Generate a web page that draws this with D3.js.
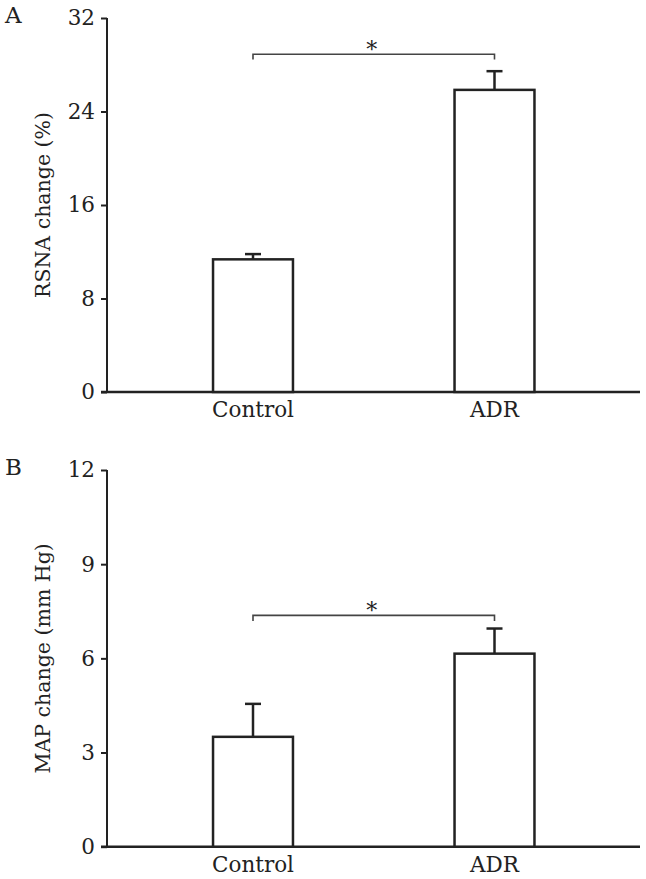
<!DOCTYPE html>
<html><head><meta charset="utf-8">
<script src="https://cdn.jsdelivr.net/npm/d3@7"></script>
<style>
body{margin:0;background:#fff;}
text{font-family:"DejaVu Serif",serif;fill:#222;}
</style></head>
<body><svg id="c" width="646" height="879"></svg>
<script>
const categories = ["Control", "ADR"];
const rsnaMean = [11.35, 25.85];
const rsnaErr = [0.45, 1.6];
const rsnaTicks = [0, 8, 16, 24, 32];
const mapMean = [3.5, 6.15];
const mapErr = [1.05, 0.8];
const mapTicks = [0, 3, 6, 9, 12];

const svg = d3.select("#c");

function panel(o) {
  const g = svg.append("g");
  const x = d3.scaleBand().domain(categories).range([132.25, 615.25]).paddingInner(0.669).paddingOuter(0.3345);
  const y = d3.scaleLinear().domain([0, o.max]).range([o.y0, o.y1]);
  const xLeft = 107, xRight = 640;

  // y axis
  const ya = g.append("g").attr("transform", `translate(${xLeft},0)`)
    .call(d3.axisLeft(y).tickValues(o.ticks).tickSize(6).tickPadding(6).tickFormat(d3.format("d")));
  ya.select(".domain").attr("d", `M0,${o.y1}V${o.y0}`).attr("stroke", "#222").attr("stroke-width", 2);
  ya.selectAll(".tick line").attr("stroke", "#222").attr("stroke-width", 2);
  ya.selectAll(".tick text").attr("font-size", 21.5).attr("font-family", "DejaVu Serif").attr("fill", "#222");

  // x axis
  const xa = g.append("g").attr("transform", `translate(0,${o.y0})`)
    .call(d3.axisBottom(x).tickSize(0).tickPadding(10));
  xa.select(".domain").attr("d", `M${xLeft - 6},0H${xRight}`).attr("stroke", "#222").attr("stroke-width", 2.5);
  xa.selectAll(".tick text").attr("font-size", 21.5).attr("font-family", "DejaVu Serif").attr("fill", "#222").attr("dy", "0.71em");

  // error bars
  const cap = 16;
  categories.forEach((c, i) => {
    const cx = x(c) + x.bandwidth() / 2;
    g.append("line").attr("x1", cx).attr("x2", cx).attr("y1", y(o.mean[i])).attr("y2", y(o.mean[i] + o.err[i]))
      .attr("stroke", "#222").attr("stroke-width", 2.5);
    g.append("line").attr("x1", cx - cap / 2).attr("x2", cx + cap / 2).attr("y1", y(o.mean[i] + o.err[i])).attr("y2", y(o.mean[i] + o.err[i]))
      .attr("stroke", "#222").attr("stroke-width", 2.5);
  });

  // bars
  g.selectAll("rect.bar").data(categories).join("rect").attr("class", "bar")
    .attr("x", d => x(d)).attr("width", x.bandwidth())
    .attr("y", (d, i) => y(o.mean[i])).attr("height", (d, i) => y(0) - y(o.mean[i]))
    .attr("fill", "#fff").attr("stroke", "#222").attr("stroke-width", 2.5);

  // significance bracket
  const bx1 = x(categories[0]) + x.bandwidth() / 2, bx2 = x(categories[1]) + x.bandwidth() / 2;
  const by = y(o.bracket), byEnd = y(o.bracket - o.bracketDrop);
  g.append("path").attr("d", `M${bx1},${byEnd}V${by}H${bx2}V${byEnd}`)
    .attr("fill", "none").attr("stroke", "#444").attr("stroke-width", 1.6);
  g.append("text").attr("x", (bx1 + bx2) / 2 - 2).attr("y", by + 3).attr("text-anchor", "middle")
    .attr("font-size", 22).text("*");

  // y title
  g.append("text").attr("transform", `translate(${o.titleX},${(o.y0 + o.y1) / 2}) rotate(-90)`)
    .attr("text-anchor", "middle").attr("font-size", 20.5).text(o.title);

  // panel letter
  g.append("text").attr("x", 5).attr("y", o.letterY).attr("font-size", 23).text(o.letter);
}

panel({max: 32, ticks: rsnaTicks, mean: rsnaMean, err: rsnaErr, y0: 392, y1: 18,
  bracket: 28.9, bracketDrop: 0.45, title: "RSNA change (%)", titleX: 50, letter: "A", letterY: 23});
panel({max: 12, ticks: mapTicks, mean: mapMean, err: mapErr, y0: 846.7, y1: 470,
  bracket: 7.37, bracketDrop: 0.18, title: "MAP change (mm Hg)", titleX: 50, letter: "B", letterY: 475});
</script>
</body></html>
